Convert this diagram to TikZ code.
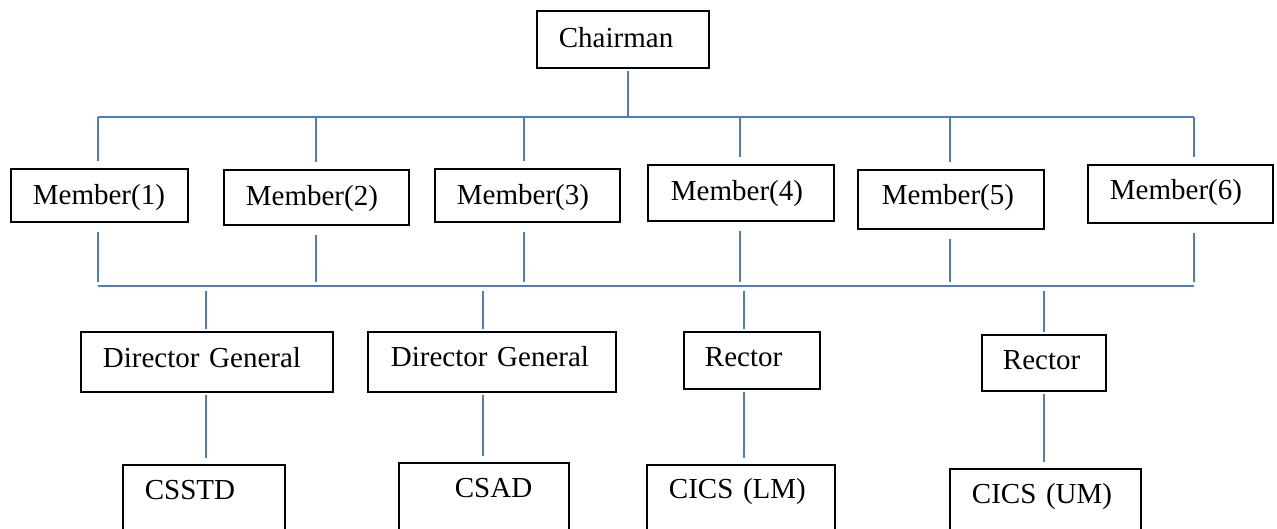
\documentclass[tikz,border=0pt]{standalone}
\usepackage{fontspec}
\setmainfont{Liberation Serif}
\definecolor{linkblue}{RGB}{74,126,193}

\begin{document}
\begin{tikzpicture}[x=1pt,y=-1pt,
		orgbox/.style={draw, line width=1.8pt, anchor=north west, inner sep=0pt,
			align=left, font=\fontsize{29}{34}\selectfont,
			execute at begin node={\hspace*{#1}}},
		orgbox/.default=22pt,
		link/.style={draw=linkblue, line width=1.6pt}]
		\useasboundingbox (0,0) rectangle (1277,528);
		\clip (0,0) rectangle (1277,528);
		% boxes
		\node[orgbox, text width=172pt, text height=37pt, text depth=20pt] (chair) at (536,10) {Chairman};
		\node[orgbox, text width=177pt, text height=36pt, text depth=17pt] (m1) at (10,168) {Member(1)};
		\node[orgbox, text width=185pt, text height=36pt, text depth=19pt] (m2) at (223,169) {Member(2)};
		\node[orgbox, text width=185pt, text height=36pt, text depth=17pt] (m3) at (434,168) {Member(3)};
		\node[orgbox=23pt, text width=186pt, text height=36pt, text depth=20pt] (m4) at (647,164) {Member(4)};
		\node[orgbox=24pt, text width=186pt, text height=35pt, text depth=24pt] (m5) at (857,169) {Member(5)};
		\node[orgbox, text width=185pt, text height=35pt, text depth=23pt] (m6) at (1087,164) {Member(6)};
		\node[orgbox, text width=252pt, text height=36pt, text depth=24pt] (dg1) at (80,331) {Director General};
		\node[orgbox=23pt, text width=248pt, text height=35pt, text depth=25pt] (dg2) at (367,331) {Director General};
		\node[orgbox=21pt, text width=136pt, text height=35pt, text depth=22pt] (r1) at (683,331) {Rector};
		\node[orgbox=21pt, text width=124pt, text height=35pt, text depth=21pt] (r2) at (981,334) {Rector};
		\node[orgbox, text width=162pt, text height=35pt, text depth=46pt] (csstd) at (122,464) {CSSTD};
		\node[orgbox=56pt, text width=170pt, text height=35pt, text depth=48pt] (csad) at (398,462) {CSAD};
		\node[orgbox, text width=188pt, text height=34pt, text depth=47pt] (cicslm) at (646,464) {CICS (LM)};
		\node[orgbox, text width=191pt, text height=35pt, text depth=42pt] (cicsum) at (949,468) {CICS (UM)};
		% bars
		\coordinate (tc) at (628,117);
		\foreach \x [count=\i] in {98,316,524,740,950,1194} {
			\coordinate (t\i) at (\x,117);
			\coordinate (b\i) at (\x,286);
		}
		\foreach \x [count=\i] in {206,483,744,1044}
			\coordinate (d\i) at (\x,286);
		\draw[link, shorten <=2pt] (chair.south -| tc) -- (tc);
		\draw[link] (t1) -- (t6);
		\draw[link] (b1) -- (b6);
		\foreach \i in {1,...,6} {
			\draw[link, shorten >=7pt] (t\i) -- (t\i |- m\i.north);
			\draw[link, shorten <=9pt, shorten >=4pt] (t\i |- m\i.south) -- (b\i);
		}
		\foreach \d/\up/\dn in {d1/dg1/csstd, d2/dg2/csad, d3/r1/cicslm, d4/r2/cicsum} {
			\draw[link, shorten <=5pt, shorten >=2pt] (\d) -- (\d |- \up.north);
			\draw[link, shorten <=2pt, shorten >=6pt] (\d |- \up.south) -- (\d |- \dn.north);
		}
		
		\end{tikzpicture}
\end{document}
